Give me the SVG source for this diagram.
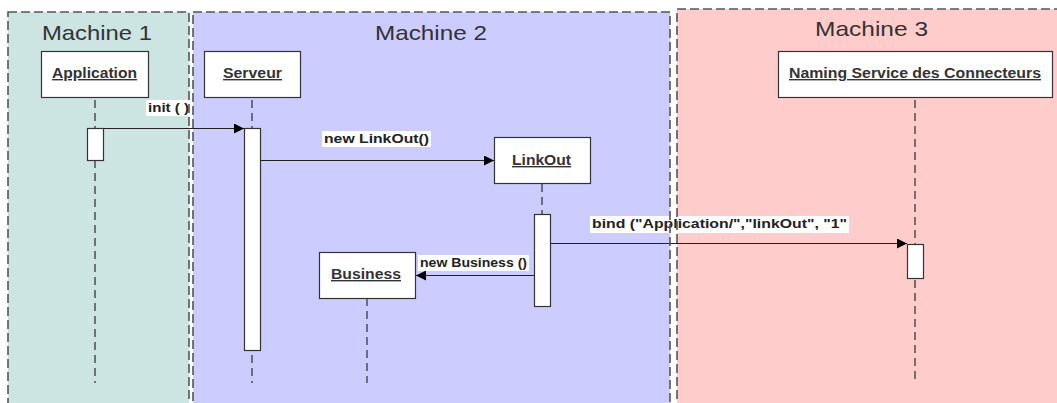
<svg xmlns="http://www.w3.org/2000/svg" width="1057" height="403" viewBox="0 0 1057 403">
<defs>
<style>
.region-border{fill:none;stroke:#555;stroke-width:1.6;stroke-dasharray:9 4}
.mtitle{font-family:"Liberation Sans",Arial,sans-serif;font-size:21px;fill:#333}
.box{fill:#fff;stroke:#333;stroke-width:1.2}
.name{font-family:"Liberation Sans",Arial,sans-serif;font-size:14px;font-weight:bold;fill:#333;text-decoration:underline}
.life{stroke:#444;stroke-width:1.4;stroke-dasharray:8 5;fill:none}
.act{fill:#fff;stroke:#333;stroke-width:1.2}
.msg{stroke:#222;stroke-width:1;fill:none;marker-end:url(#arr)}
.lbl{font-family:"Liberation Sans",Arial,sans-serif;font-size:13.5px;font-weight:bold;fill:#222}
.lblbg{fill:#fff}
</style>
<marker id="arr" viewBox="0 0 10 10" refX="10" refY="5" markerWidth="10" markerHeight="10" markerUnits="userSpaceOnUse" orient="auto">
<path d="M0,0 L10,5 L0,10 z" fill="#000"/>
</marker>
</defs>
<rect width="1057" height="403" fill="#fff"/>
<g id="regions">
<rect x="8" y="12" width="181" height="400" fill="#cce5e3"/>
<rect x="193" y="12" width="477" height="400" fill="#ccccff"/>
<rect x="677" y="9" width="390" height="403" fill="#ffcccc"/>
<text class="mtitle" x="42" y="40" textLength="110" lengthAdjust="spacingAndGlyphs">Machine 1</text>
<text class="mtitle" x="375" y="40" textLength="112" lengthAdjust="spacingAndGlyphs">Machine 2</text>
<text class="mtitle" x="815" y="36" textLength="113" lengthAdjust="spacingAndGlyphs">Machine 3</text>
</g>
<g id="lifelines">
<line class="life" x1="95" y1="100" x2="95" y2="128"/>
<line class="life" x1="95" y1="160" x2="95" y2="383"/>
<line class="life" x1="252" y1="100" x2="252" y2="128"/>
<line class="life" x1="252" y1="355" x2="252" y2="383"/>
<line class="life" x1="542" y1="184" x2="542" y2="214"/>
<line class="life" x1="367" y1="298" x2="367" y2="383"/>
<line class="life" x1="915" y1="100" x2="915" y2="244"/>
<line class="life" x1="915" y1="280" x2="915" y2="383"/>
</g>
<g id="node-application">
<rect class="box" x="41.5" y="51.5" width="107" height="46"/>
<text class="name" x="52" y="78" textLength="85" lengthAdjust="spacingAndGlyphs">Application</text>
<rect class="act" x="87.5" y="128.5" width="16" height="32"/>
</g>
<g id="node-serveur">
<rect class="box" x="204.5" y="51.5" width="96" height="46"/>
<text class="name" x="223" y="78" textLength="59" lengthAdjust="spacingAndGlyphs">Serveur</text>
<rect class="act" x="244.5" y="128.5" width="16" height="222"/>
</g>
<g id="node-linkout">
<rect class="box" x="494.5" y="137.5" width="96" height="46"/>
<text class="name" x="512" y="165" textLength="59" lengthAdjust="spacingAndGlyphs">LinkOut</text>
<rect class="act" x="534.5" y="214.5" width="16" height="92"/>
</g>
<g id="node-business">
<rect class="box" x="319.5" y="252.5" width="96" height="46"/>
<text class="name" x="331" y="279" textLength="70" lengthAdjust="spacingAndGlyphs">Business</text>
</g>
<g id="node-naming">
<rect class="box" x="778.5" y="51.5" width="274" height="46"/>
<text class="name" x="789" y="78" textLength="252" lengthAdjust="spacingAndGlyphs">Naming Service des Connecteurs</text>
<rect class="act" x="907.5" y="244.5" width="16" height="34"/>
</g>
<g id="connectors">
<rect class="lblbg" x="146" y="100" width="44" height="16"/>
<text class="lbl" x="148" y="112" textLength="41" lengthAdjust="spacingAndGlyphs">init ( )</text>
<line class="msg" x1="104" y1="128.5" x2="244" y2="128.5"/>
<rect class="lblbg" x="322" y="131" width="109" height="16"/>
<text class="lbl" x="324" y="143" textLength="105" lengthAdjust="spacingAndGlyphs">new LinkOut()</text>
<line class="msg" x1="261" y1="160.5" x2="494" y2="160.5"/>
<rect class="lblbg" x="590" y="216" width="259" height="17"/>
<text class="lbl" x="592" y="228" textLength="255" lengthAdjust="spacingAndGlyphs">bind ("Application/","linkOut", "1"</text>
<line class="msg" x1="551" y1="243.5" x2="907" y2="243.5"/>
<rect class="lblbg" x="418" y="255" width="111" height="16"/>
<text class="lbl" x="420" y="267" textLength="107" lengthAdjust="spacingAndGlyphs">new Business ()</text>
<line class="msg" x1="534" y1="275.5" x2="416" y2="275.5"/>
</g>
<g id="region-borders">
<rect class="region-border" x="8" y="12" width="181" height="400"/>
<rect class="region-border" x="193" y="12" width="477" height="400"/>
<rect class="region-border" x="677" y="9" width="390" height="403"/>
</g>
</svg>
